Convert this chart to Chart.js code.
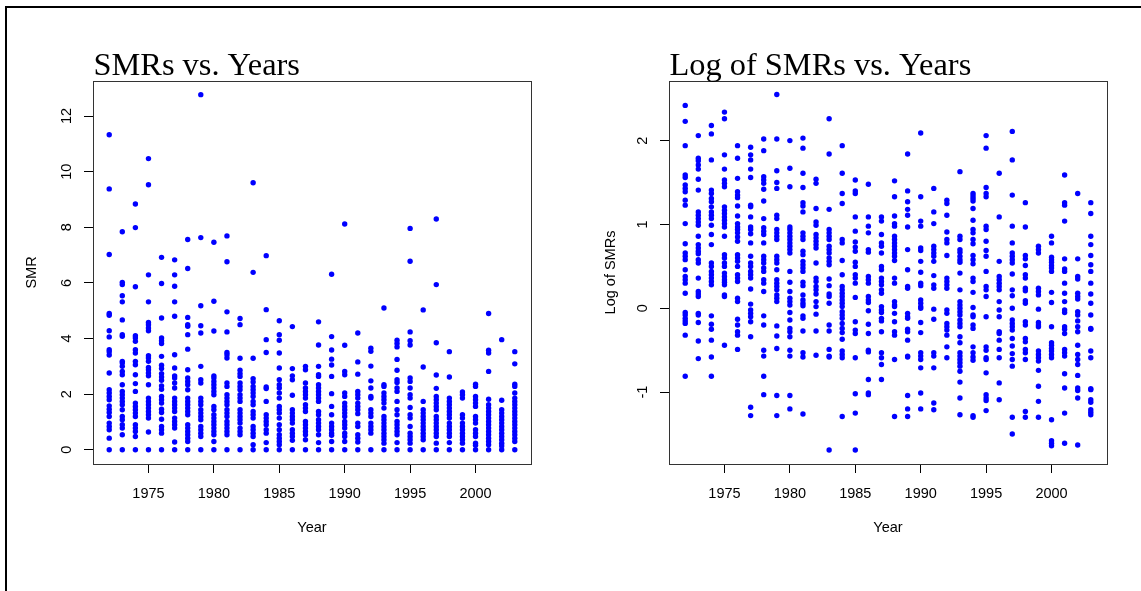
<!DOCTYPE html>
<html>
<head>
<meta charset="utf-8">
<script src="https://cdn.jsdelivr.net/npm/chart.js@4/dist/chart.umd.min.js"></script>
<style>
html, body { margin: 0; padding: 0; background: #fff; }
body { width: 1141px; height: 591px; position: relative; overflow: hidden; }
#frame { position: absolute; left: 5px; top: 6px; width: 1200px; height: 700px; border-left: 2px solid #000; border-top: 2px solid #000; }
canvas { position: absolute; top: 0; }
#smrChart { left: 0; }
#logChart { left: 570px; }
</style>
</head>
<body>
<div id="frame"></div>
<canvas id="smrChart" width="570" height="591"></canvas>
<canvas id="logChart" width="571" height="591"></canvas>
<script>
// one column of points per year
const years = [1972, 1973, 1974, 1975, 1976, 1977, 1978, 1979, 1980, 1981, 1982, 1983, 1984, 1985, 1986, 1987,
               1988, 1989, 1990, 1991, 1992, 1993, 1994, 1995, 1996, 1997, 1998, 1999, 2000, 2001, 2002, 2003]

// SMR values
const smr = [
  [11.33, 9.38, 7.02, 4.9, 4.84, 4.28, 4.06, 3.6, 3.53, 3.41, 2.76, 2.16, 2.04, 1.92, 1.8, 1.58, 1.46, 1.34, 1.2, 0.96, 0.84, 0.72, 0.42, 0],
  [7.84, 6.02, 5.94, 5.54, 5.32, 4.67, 4.14, 4.08, 3.18, 3.12, 3.0, 2.82, 2.7, 2.34, 2.1, 1.98, 1.86, 1.74, 1.62, 1.44, 1.2, 1.08, 0.9, 0.78, 0.54, 0],
  [8.84, 7.99, 5.86, 4.1, 4.02, 3.9, 3.6, 3.48, 3.18, 3.06, 2.7, 2.38, 2.1, 1.68, 1.56, 1.44, 1.32, 1.2, 0.9, 0.78, 0.66, 0.48, 0],
  [10.47, 9.53, 6.29, 5.32, 4.58, 4.5, 4.38, 4.28, 3.38, 3.3, 3.18, 2.96, 2.88, 2.76, 2.66, 2.34, 1.86, 1.74, 1.62, 1.5, 1.38, 1.26, 1.14, 0.64, 0],
  [6.92, 5.98, 4.74, 4.02, 3.92, 3.82, 3.36, 3.04, 2.92, 2.74, 2.62, 2.5, 2.3, 2.18, 1.92, 1.8, 1.68, 1.46, 1.34, 1.1, 0.84, 0.72, 0.6, 0],
  [6.83, 6.29, 5.88, 5.32, 4.8, 3.42, 2.94, 2.66, 2.58, 2.4, 2.22, 1.86, 1.74, 1.62, 1.5, 1.38, 1.14, 1.02, 0.9, 0.78, 0.28, 0],
  [7.56, 6.52, 4.76, 4.5, 4.44, 4.14, 3.62, 2.88, 2.58, 2.46, 2.34, 2.16, 1.86, 1.74, 1.62, 1.5, 1.38, 1.26, 0.9, 0.78, 0.66, 0.54, 0.42, 0.3, 0],
  [12.77, 7.63, 5.18, 4.46, 4.2, 3.0, 2.52, 2.4, 1.86, 1.74, 1.62, 1.44, 1.32, 1.2, 1.08, 0.84, 0.72, 0.6, 0.48, 0],
  [7.46, 5.34, 4.27, 2.66, 2.58, 2.46, 2.34, 2.22, 2.1, 1.98, 1.56, 1.44, 1.26, 1.14, 1.02, 0.9, 0.78, 0.66, 0.54, 0.3, 0],
  [7.69, 6.76, 4.96, 4.24, 3.5, 3.42, 3.3, 2.4, 2.28, 1.98, 1.86, 1.74, 1.62, 1.44, 1.32, 1.2, 1.02, 0.9, 0.78, 0.66, 0.54, 0],
  [4.72, 4.5, 3.29, 2.86, 2.74, 2.64, 2.4, 2.28, 2.16, 1.98, 1.86, 1.74, 1.44, 1.32, 1.2, 1.08, 0.96, 0.78, 0.66, 0.54, 0],
  [9.6, 6.38, 3.29, 2.56, 2.44, 2.28, 2.16, 2.04, 1.92, 1.74, 1.62, 1.38, 1.26, 1.14, 0.84, 0.72, 0.6, 0.48, 0.18, 0],
  [6.98, 5.04, 3.96, 3.5, 2.26, 2.2, 1.74, 1.26, 1.14, 1.02, 0.9, 0.72, 0.6, 0.26, 0],
  [4.64, 4.14, 3.94, 3.48, 2.94, 2.52, 2.34, 2.22, 2.04, 1.86, 1.56, 1.44, 1.32, 1.14, 0.9, 0.72, 0.54, 0.42, 0.3, 0.18, 0],
  [4.43, 2.92, 2.66, 2.52, 1.96, 1.44, 1.32, 1.2, 1.08, 0.96, 0.72, 0.6, 0.48, 0.34, 0],
  [3.0, 2.88, 2.4, 2.22, 2.1, 1.98, 1.86, 1.62, 1.5, 1.38, 1.02, 0.9, 0.78, 0.66, 0.54, 0.36, 0],
  [4.6, 3.77, 3.0, 2.7, 2.64, 2.34, 2.22, 2.1, 1.98, 1.86, 1.74, 1.38, 1.26, 1.08, 0.96, 0.84, 0.72, 0.54, 0.26, 0],
  [6.31, 4.07, 3.59, 3.26, 3.05, 2.64, 2.02, 1.56, 1.26, 0.96, 0.84, 0.72, 0.6, 0.52, 0.3, 0],
  [8.12, 3.76, 2.82, 2.7, 2.04, 1.92, 1.68, 1.56, 1.44, 1.32, 1.2, 1.02, 0.9, 0.78, 0.6, 0.48, 0.3, 0],
  [4.2, 3.16, 2.72, 2.1, 1.98, 1.86, 1.68, 1.56, 1.44, 1.3, 0.96, 0.84, 0.54, 0.42, 0.28, 0],
  [3.65, 3.54, 3.01, 2.48, 2.22, 1.92, 1.86, 1.44, 1.32, 1.2, 0.96, 0.84, 0.72, 0.6, 0],
  [5.1, 2.34, 2.28, 2.04, 1.92, 1.8, 1.68, 1.5, 1.2, 1.08, 0.96, 0.84, 0.72, 0.6, 0.48, 0.36, 0.24, 0],
  [3.94, 3.82, 3.7, 3.25, 2.86, 2.52, 2.42, 2.22, 2.1, 1.74, 1.44, 1.26, 1.02, 0.9, 0.78, 0.66, 0.54, 0.26, 0],
  [7.96, 6.78, 4.24, 3.92, 3.77, 2.58, 2.46, 2.22, 1.98, 1.86, 1.52, 1.26, 1.14, 0.84, 0.6, 0.48, 0.36, 0.24, 0],
  [5.03, 2.98, 1.74, 1.44, 1.32, 1.2, 1.08, 0.96, 0.84, 0.72, 0.6, 0.48, 0.36, 0],
  [8.3, 5.94, 3.85, 2.69, 2.21, 1.92, 1.8, 1.68, 1.56, 1.44, 1.2, 1.08, 0.96, 0.84, 0.72, 0.6, 0.48, 0.24, 0],
  [3.53, 2.62, 1.86, 1.74, 1.62, 1.5, 1.38, 1.26, 1.14, 0.96, 0.84, 0.72, 0.6, 0.48, 0.26, 0],
  [2.08, 1.98, 1.86, 1.26, 1.14, 0.96, 0.84, 0.72, 0.6, 0.48, 0.36, 0.24, 0],
  [2.36, 2.28, 1.92, 1.8, 1.68, 1.56, 1.2, 1.08, 0.96, 0.72, 0.6, 0.48, 0.24, 0.16, 0],
  [4.9, 3.58, 3.48, 2.82, 1.82, 1.62, 1.5, 1.38, 1.26, 1.14, 1.02, 0.9, 0.78, 0.66, 0.54, 0.42, 0.3, 0.18, 0],
  [3.96, 1.78, 1.44, 1.32, 1.2, 1.08, 0.96, 0.84, 0.72, 0.6, 0.48, 0.36, 0.24, 0.14, 0],
  [3.53, 3.09, 2.36, 2.28, 2.04, 1.86, 1.74, 1.62, 1.5, 1.38, 1.26, 1.14, 1.02, 0.9, 0.78, 0.66, 0.54, 0.42, 0.3, 0]
]

// log SMR values (zero SMRs are not shown there)
const logSmr = [
  [2.42, 2.23, 1.94, 1.59, 1.56, 1.47, 1.43, 1.39, 1.29, 1.23, 1.01, 0.77, 0.66, 0.62, 0.58, 0.46, 0.38, 0.34, 0.3, 0.18, -0.05, -0.08, -0.12, -0.15, -0.18, -0.32, -0.81],
  [2.06, 1.79, 1.76, 1.71, 1.66, 1.54, 1.41, 1.15, 1.11, 1.07, 1.03, 0.99, 0.86, 0.76, 0.72, 0.68, 0.65, 0.58, 0.54, 0.36, 0.2, 0.17, 0.14, -0.06, -0.08, -0.17, -0.39, -0.6],
  [2.18, 2.08, 1.77, 1.41, 1.37, 1.31, 1.27, 1.21, 1.15, 1.11, 1.07, 0.99, 0.88, 0.76, 0.54, 0.5, 0.44, 0.4, 0.36, 0.32, 0.28, -0.09, -0.19, -0.25, -0.38, -0.58, -0.81],
  [2.34, 2.26, 1.83, 1.66, 1.53, 1.49, 1.45, 1.21, 1.17, 1.13, 1.09, 1.05, 1.01, 0.97, 0.86, 0.64, 0.6, 0.54, 0.5, 0.42, 0.38, 0.34, 0.31, 0.28, 0.16, 0.14, -0.44],
  [1.94, 1.79, 1.55, 1.39, 1.35, 1.32, 1.22, 1.1, 1.01, 0.97, 0.94, 0.9, 0.85, 0.8, 0.64, 0.6, 0.56, 0.5, 0.4, 0.36, 0.32, 0.12, 0.08, -0.13, -0.2, -0.28, -0.32, -0.49],
  [1.92, 1.83, 1.77, 1.66, 1.56, 1.23, 1.21, 1.09, 0.97, 0.94, 0.89, 0.78, 0.62, 0.54, 0.5, 0.44, 0.4, 0.36, 0.23, 0.05, -0.02, -0.06, -0.1, -0.16, -0.34, -1.18, -1.28],
  [2.02, 1.88, 1.57, 1.53, 1.49, 1.42, 1.28, 1.07, 0.96, 0.92, 0.88, 0.78, 0.62, 0.58, 0.54, 0.48, 0.44, 0.34, 0.3, 0.2, -0.09, -0.2, -0.5, -0.57, -0.81, -1.03],
  [2.55, 2.02, 1.64, 1.5, 1.43, 1.11, 1.07, 0.94, 0.9, 0.86, 0.82, 0.62, 0.58, 0.54, 0.46, 0.34, 0.3, 0.26, 0.22, 0.16, 0.12, 0.08, -0.21, -0.33, -0.48, -1.04, -1.28],
  [2.0, 1.67, 1.45, 0.97, 0.94, 0.9, 0.86, 0.82, 0.78, 0.74, 0.7, 0.66, 0.44, 0.31, 0.2, 0.12, 0.08, 0.04, -0.05, -0.14, -0.24, -0.28, -0.34, -0.5, -0.57, -1.04, -1.2],
  [2.03, 1.91, 1.61, 1.44, 1.26, 1.22, 1.15, 0.9, 0.86, 0.82, 0.68, 0.64, 0.56, 0.52, 0.48, 0.44, 0.31, 0.27, 0.16, 0.1, 0.06, 0.03, -0.09, -0.12, -0.27, -0.53, -0.58, -1.26],
  [1.54, 1.49, 1.19, 1.03, 0.99, 0.88, 0.84, 0.8, 0.76, 0.72, 0.54, 0.36, 0.32, 0.26, 0.22, 0.17, 0.08, 0.02, -0.07, -0.27, -0.56],
  [2.26, 1.84, 1.18, 0.94, 0.9, 0.86, 0.82, 0.74, 0.7, 0.66, 0.6, 0.56, 0.52, 0.35, 0.27, 0.17, 0.14, 0.06, -0.2, -0.27, -0.49, -0.57, -0.58, -1.69],
  [1.94, 1.61, 1.37, 1.25, 0.82, 0.78, 0.57, 0.4, 0.26, 0.22, 0.18, 0.14, 0.1, 0.06, 0.02, -0.04, -0.08, -0.12, -0.18, -0.24, -0.29, -0.37, -0.51, -0.55, -0.59, -1.29],
  [1.53, 1.4, 1.37, 1.09, 0.92, 0.79, 0.73, 0.68, 0.55, 0.5, 0.4, 0.36, 0.3, 0.13, -0.16, -0.26, -0.3, -0.59, -1.02, -1.25, -1.69],
  [1.48, 1.09, 0.98, 0.9, 0.7, 0.67, 0.38, 0.34, 0.3, 0.14, 0.1, 0.07, -0.03, -0.19, -0.3, -0.5, -0.52, -0.85, -1.01, -1.03],
  [1.09, 1.04, 0.88, 0.78, 0.74, 0.66, 0.5, 0.46, 0.36, 0.32, 0.28, 0.22, 0.18, 0.02, -0.02, -0.05, -0.12, -0.15, -0.28, -0.53, -0.59, -0.67, -0.85],
  [1.52, 1.33, 1.1, 1.01, 0.98, 0.86, 0.82, 0.78, 0.74, 0.7, 0.66, 0.62, 0.57, 0.36, 0.3, 0.08, 0.04, 0.02, -0.06, -0.16, -0.28, -0.32, -0.61, -1.29],
  [1.84, 1.4, 1.27, 1.18, 1.11, 0.97, 0.7, 0.46, 0.26, 0.24, -0.06, -0.1, -0.12, -0.25, -0.28, -0.38, -0.57, -0.58, -1.04, -1.2, -1.29],
  [2.09, 1.33, 1.04, 0.98, 0.72, 0.69, 0.56, 0.43, 0.3, 0.27, 0.1, 0.06, 0.02, 0, -0.17, -0.29, -0.53, -0.57, -0.61, -0.71, -1.01, -1.2],
  [1.43, 1.15, 1.01, 0.74, 0.7, 0.66, 0.62, 0.56, 0.39, 0.28, 0.24, -0.01, -0.13, -0.53, -0.57, -0.71, -1.13, -1.21],
  [1.29, 1.25, 1.11, 0.91, 0.82, 0.78, 0.63, 0.36, 0.32, 0.28, 0.24, -0.02, -0.06, -0.18, -0.22, -0.26, -0.32, -0.46, -0.59],
  [1.63, 0.86, 0.82, 0.7, 0.67, 0.62, 0.58, 0.55, 0.42, 0.22, 0.08, 0.04, 0, -0.04, -0.08, -0.14, -0.18, -0.22, -0.34, -0.41, -0.53, -0.57, -0.61, -0.65, -0.69, -0.75, -0.88, -1.07, -1.27],
  [1.37, 1.34, 1.31, 1.28, 1.19, 1.05, 0.94, 0.9, 0.82, 0.77, 0.63, 0.58, 0.53, 0.36, 0.32, 0.19, 0.01, -0.08, -0.1, -0.2, -0.24, -0.46, -0.53, -0.58, -0.62, -1.28, -1.3],
  [2.06, 1.91, 1.44, 1.37, 1.33, 0.98, 0.94, 0.8, 0.69, 0.62, 0.44, 0.26, 0.22, 0.14, -0.1, -0.46, -0.5, -0.59, -0.61, -0.77, -1.03, -1.07, -1.1, -1.22],
  [1.61, 1.09, 0.56, 0.38, 0.34, 0.3, 0.26, 0.22, 0.08, -0.02, -0.1, -0.28, -0.3, -0.38, -0.49, -0.59, -0.89, -1.09],
  [2.11, 1.77, 1.35, 0.98, 0.78, 0.66, 0.62, 0.58, 0.54, 0.41, 0.22, 0.15, 0, -0.14, -0.18, -0.22, -0.26, -0.36, -0.45, -0.54, -0.61, -0.69, -1.3, -1.5],
  [1.26, 0.97, 0.63, 0.59, 0.51, 0.4, 0.36, 0.24, 0.21, 0.09, 0.06, -0.16, -0.2, -0.36, -0.4, -0.49, -0.53, -0.61, -1.23, -1.3],
  [0.74, 0.7, 0.66, 0.24, 0.2, 0.16, -0.01, -0.17, -0.2, -0.22, -0.51, -0.55, -0.59, -0.63, -0.74, -0.93, -1.11, -1.3],
  [0.86, 0.78, 0.61, 0.58, 0.55, 0.51, 0.48, 0.44, 0.19, 0.07, -0.22, -0.41, -0.44, -0.48, -0.51, -0.55, -0.59, -1.33, -1.58, -1.61, -1.64],
  [1.59, 1.26, 1.23, 1.04, 0.59, 0.47, 0.44, 0.3, 0.18, 0.08, -0.02, -0.05, -0.22, -0.25, -0.3, -0.49, -0.53, -0.57, -0.78, -0.95, -1.25, -1.61],
  [1.37, 0.59, 0.38, 0.35, 0.18, 0.14, 0.11, -0.04, -0.08, -0.15, -0.22, -0.28, -0.44, -0.55, -0.61, -0.67, -0.8, -0.95, -0.98, -1.07, -1.63],
  [1.26, 1.13, 0.86, 0.76, 0.63, 0.52, 0.44, 0.3, 0.17, 0.06, -0.08, -0.24, -0.25, -0.51, -0.59, -0.96, -0.97, -1.09, -1.12, -1.21, -1.24, -1.27]
]

const titles = ['SMRs vs. Years', 'Log of SMRs vs. Years']
const yTitles = ['SMR', 'Log of SMRs']
const xTitle = 'Year'

Chart.defaults.font.family = "'Liberation Sans', Arial, sans-serif"
Chart.defaults.font.size = 14.5
Chart.defaults.color = '#000'

const toPoints = (cols) => {
  let pts = []
  for (var i = 0; i < years.length; i++) {
    for (var j = 0; j < cols[i].length; j++) {
      pts.push({ x: years[i], y: cols[i][j] })
    }
  }
  return pts
}

// R-style frame around the plot region plus a left-aligned main title
const rBox = {
  id: 'rBox',
  afterDraw(chart, args, opts) {
    const a = chart.chartArea
    const ctx = chart.ctx
    ctx.save()
    ctx.strokeStyle = '#333'
    ctx.lineWidth = 1
    ctx.strokeRect(Math.round(a.left) + 0.5, Math.round(a.top) + 0.5, Math.round(a.right - a.left), Math.round(a.bottom - a.top))
    ctx.fillStyle = '#000'
    ctx.font = "32.4px 'Liberation Serif', 'Times New Roman', serif"
    ctx.textAlign = 'left'
    ctx.textBaseline = 'alphabetic'
    ctx.fillText(opts.text, a.left + 0.5, 75)
    ctx.restore()
  }
}

const makeChart = (id, points, title, yTitle, yMin, yMax, yStep, yAxisWidth, padRight, yTitlePad, yTickPad) => {
  return new Chart(document.getElementById(id), {
    type: 'scatter',
    data: {
      datasets: [{
        data: points,
        backgroundColor: '#0000ff',
        borderWidth: 0,
        pointRadius: 2.7,
        pointHoverRadius: 2.7
      }]
    },
    options: {
      responsive: false,
      animation: false,
      devicePixelRatio: 1,
      layout: { padding: { top: 81, right: padRight, left: 0, bottom: 0 } },
      plugins: {
        legend: { display: false },
        tooltip: { enabled: false },
        rBox: { text: title }
      },
      scales: {
        x: {
          type: 'linear',
          min: 1970.76,
          max: 2004.24,
          afterFit: (s) => { s.height = 127 },
          border: { display: false },
          grid: { drawOnChartArea: false, drawTicks: true, tickLength: 9, color: '#000', lineWidth: 1 },
          ticks: { stepSize: 5, includeBounds: false, padding: 12, maxRotation: 0, callback: (v) => String(v) },
          title: { display: true, text: xTitle, padding: { top: 0, bottom: 54 } }
        },
        y: {
          type: 'linear',
          min: yMin,
          max: yMax,
          afterFit: (s) => { s.width = yAxisWidth },
          border: { display: false },
          grid: { drawOnChartArea: false, drawTicks: true, tickLength: 9, color: '#000', lineWidth: 1 },
          ticks: { stepSize: yStep, includeBounds: false, padding: yTickPad, minRotation: 90, maxRotation: 90, crossAlign: 'center', callback: (v) => String(v) },
          title: { display: true, text: yTitle, padding: { top: yTitlePad, bottom: 0 } }
        }
      }
    },
    plugins: [rBox]
  })
}

makeChart('smrChart', toPoints(smr), titles[0], yTitles[0], -0.51, 13.26, 2, 93, 39, 23, 9)
makeChart('logChart', toPoints(logSmr), titles[1], yTitles[1], -1.857, 2.711, 1, 99, 34, 32, 10.5)
</script>
</body>
</html>
